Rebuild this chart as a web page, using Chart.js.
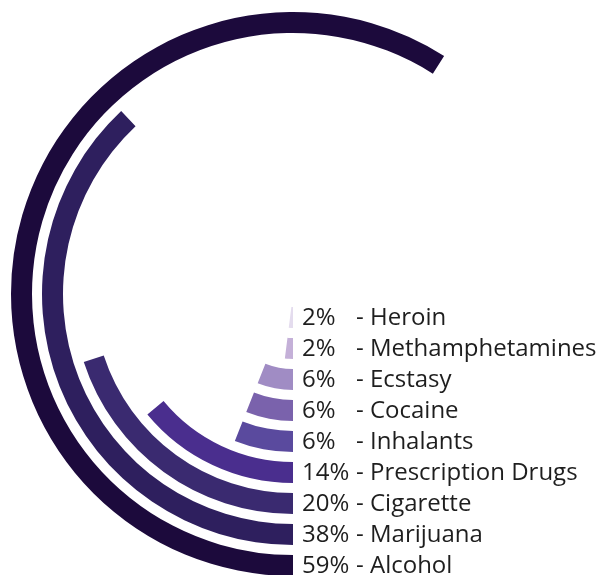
<!DOCTYPE html>
<html>
<head>
<meta charset="utf-8">
<script src="https://cdn.jsdelivr.net/npm/chart.js@4/dist/chart.umd.min.js"></script>
<style>
  html, body { margin: 0; padding: 0; background: #fff; overflow: hidden; }
  #wrap { width: 599px; height: 600px; }
</style>
</head>
<body>
<div id="wrap"><canvas id="drugChart" width="599" height="600"></canvas></div>
<script>
// outer ring first, inner ring last
const drugs = ['Alcohol', 'Marijuana', 'Cigarette', 'Prescription Drugs', 'Inhalants', 'Cocaine', 'Ecstasy', 'Methamphetamines', 'Heroin'];
const percents = [59, 38, 20, 14, 6, 6, 6, 2, 2];
const ringColors = ['#1c0a3c', '#2e1f5e', '#3a2a70', '#4a2e8e', '#5a4a9e', '#7a62ac', '#a08cc4', '#c4b0d8', '#e4dcee'];

// build ring datasets, with a blank ring between each pair
const datasets = [];
drugs.forEach((name, i) => {
    if (i > 0) {
        datasets.push({ data: [100], backgroundColor: ['rgba(0,0,0,0)'], weight: 10, spacer: true });
    }
    datasets.push({
        label: name,
        data: [percents[i], 100 - percents[i]],
        backgroundColor: [ringColors[i], 'rgba(0,0,0,0)'],
        weight: 21
    });
});

// draw the label rows next to where each ring starts
const ringLabels = {
    id: 'ringLabels',
    afterDatasetsDraw(chart) {
        const ctx = chart.ctx;
        ctx.save();
        ctx.font = '24px "Open Sans"';
        ctx.fillStyle = '#1e1e1e';
        ctx.textBaseline = 'middle';
        ctx.textAlign = 'left';
        chart.data.datasets.forEach((ds, i) => {
            if (ds.spacer) return;
            const arc = chart.getDatasetMeta(i).data[0];
            const y = arc.y + (arc.innerRadius + arc.outerRadius) / 2 + 1;
            const idx = drugs.indexOf(ds.label);
            ctx.fillText(percents[idx] + '%', arc.x + 9, y);
            ctx.fillText('- ' + ds.label, arc.x + 63, y);
        });
        ctx.restore();
    }
};

new Chart(document.getElementById('drugChart'), {
    type: 'doughnut',
    data: { labels: ['value', 'rest'], datasets: datasets },
    options: {
        responsive: false,
        animation: false,
        events: [],
        rotation: 180,
        circumference: 360,
        cutout: 13,
        borderWidth: 0,
        layout: { padding: { left: 11, right: 24, top: 12, bottom: 24 } },
        elements: { arc: { borderWidth: 0 } },
        plugins: {
            legend: { display: false },
            tooltip: { enabled: false }
        }
    },
    plugins: [ringLabels]
});
</script>
</body>
</html>
